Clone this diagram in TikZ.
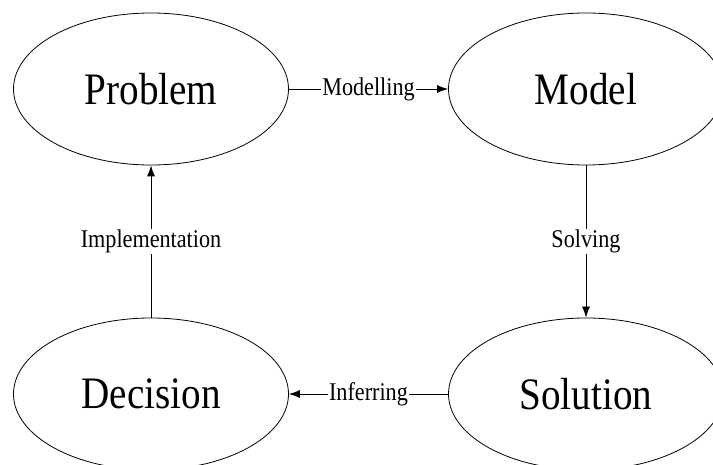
\documentclass[tikz,border=0pt]{standalone}
\usepackage{fontspec}
\setmainfont[FakeStretch=0.87]{Liberation Serif}
\usetikzlibrary{shapes.geometric,arrows.meta}
\begin{document}
\begin{tikzpicture}[x=1pt,y=-1pt,
  stage/.style={ellipse, draw, line width=0.8pt, minimum width=275pt, minimum height=152pt, inner sep=0pt, font=\fontsize{45pt}{50pt}\selectfont},
  lab/.style={fill=white, inner sep=1pt, font=\fontsize{25.5pt}{28pt}\selectfont},
  arr/.style={line width=0.8pt, -{Latex[length=11pt,width=8pt]}}]
\useasboundingbox (0,0) rectangle (713,465);
\node[stage] (p) at (151,89) {Problem};
\node[stage] (m) at (586,89) {Model};
\node[stage] (d) at (151,394) {Decision};
\node[stage] (s) at (586,394) {Solution};
\draw[arr] (p.east) -- node[lab] {Modelling} (m.west);
\draw[arr] (m.south) -- node[lab] {Solving} (s.north);
\draw[arr] (s.west) -- node[lab] {Inferring} (d.east);
\draw[arr] (d.north) -- node[lab] {Implementation} (p.south);
\end{tikzpicture}
\end{document}
